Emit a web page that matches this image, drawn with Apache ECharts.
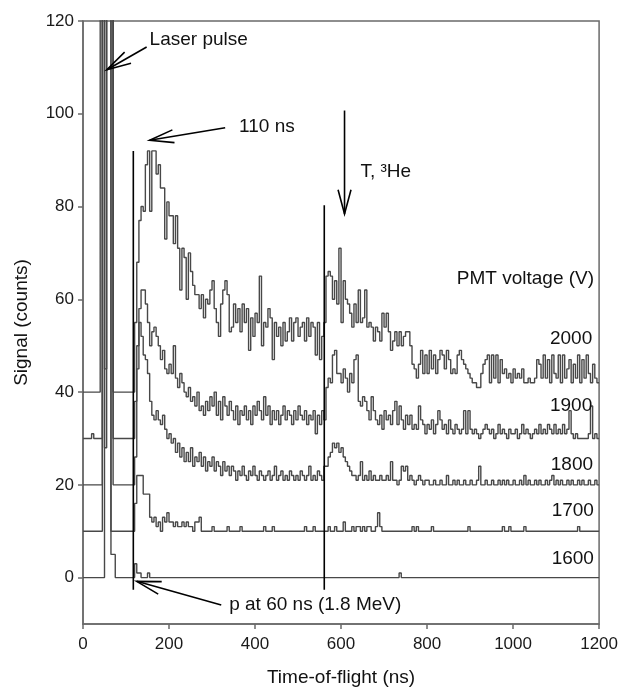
<!DOCTYPE html>
<html><head><meta charset="utf-8">
<script src="https://cdn.jsdelivr.net/npm/echarts@6/dist/echarts.min.js"></script>
<style>html,body{margin:0;padding:0;background:#fff}#c{width:621px;height:692px}</style>
</head><body><div id="c"></div>
<script>
// ---- data (plotted values, traces offset by 10 counts per PMT voltage step) ----
const binWidth = 5;            // ns per histogram bin, bins start at 0 ns
const xMax = 1200;
const xTicks = [0, 200, 400, 600, 800, 1000, 1200];
const yTicks = [0, 20, 40, 60, 80, 100, 120];
const voltages = ['2000', '1900', '1800', '1700', '1600'];

const s2000 = [
 40,40,40,40,40,40,40,40,300,300,45,300,300,300,40,40,40,40,40,40,
 40,40,40,40,55,68,77,80,79,89,92,79,92,92,87,89,84,84,73,81,
 78,78,72,78,71,62,71,69,60,70,66,63,61,61,58,61,56,60,59,62,
 64,58,55,52,59,62,64,61,53,54,59,55,58,53,59,55,58,49,56,52,
 57,55,65,50,55,54,58,56,47,55,52,54,50,55,51,53,56,51,55,56,
 52,54,55,51,56,52,55,54,48,55,47,52,55,65,66,65,60,64,59,71,
 55,64,60,59,57,54,59,55,62,55,56,62,54,55,54,51,54,53,51,57,
 54,57,53,49,51,53,50,53,50,52,53,53,50,46,45,43,46,49,44,48,
 44,49,45,48,44,47,49,48,45,49,47,44,45,44,48,49,47,46,45,44,
 43,42,42,41,41,44,46,47,48,42,48,43,48,42,47,44,45,43,44,42,
 45,43,44,43,45,42,42,43,42,42,43,47,46,43,48,43,47,42,48,44,
 43,48,42,48,43,45,47,42,46,43,48,42,47,43,48,44,42,46,43,42
];
const s1900 = [
 30,30,30,30,31,30,30,30,30,300,300,300,300,300,30,30,30,30,30,30,
 30,30,30,30,38,50,58,62,62,59,55,50,53,54,52,50,47,49,45,44,
 46,44,50,43,41,44,42,40,39,41,38,39,37,40,36,37,35,38,36,39,
 37,40,35,38,34,39,37,35,38,36,34,37,33,36,35,37,34,36,33,37,
 35,38,36,34,39,35,37,33,36,34,36,33,35,37,34,36,35,33,36,34,
 37,35,34,36,33,35,34,36,31,35,33,36,34,41,43,42,48,49,44,44,
 42,45,43,40,44,42,47,48,38,37,39,38,36,34,39,36,34,33,35,32,
 36,34,35,33,36,38,33,37,34,32,35,33,35,32,33,32,37,34,33,31,
 33,32,34,31,33,36,34,32,33,31,34,32,31,33,32,31,32,36,31,36,
 32,31,32,31,30,31,32,33,32,31,32,30,31,33,31,32,31,30,32,31,
 31,32,30,31,33,31,32,31,30,31,32,31,33,31,32,31,33,32,31,33,
 31,32,31,33,31,32,36,31,30,31,30,30,30,30,30,31,37,30,31,30
];
const s1800 = [
 20,20,20,20,20,20,20,20,20,300,28,300,300,300,20,20,20,20,20,20,
 20,20,20,20,26,45,55,52,48,47,44,38,35,34,36,34,33,35,32,30,
 31,29,30,27,29,26,28,25,27,25,28,24,26,25,27,24,26,23,25,24,
 26,23,25,24,22,25,23,24,22,24,23,21,23,22,24,22,21,23,22,24,
 22,21,23,22,21,22,23,21,22,24,21,22,23,21,22,21,23,22,21,22,
 21,23,22,21,22,24,21,22,21,23,22,21,24,24,26,27,29,28,29,27,
 28,26,25,24,23,22,22,21,22,25,21,22,21,23,21,22,21,21,22,21,
 21,22,21,25,21,21,20,21,24,23,24,21,22,21,20,21,22,21,20,21,
 21,20,20,21,20,20,21,20,20,22,20,20,21,20,21,20,20,21,20,20,
 21,20,20,21,24,20,20,21,20,20,21,20,20,21,20,21,20,21,20,20,
 21,20,20,21,20,22,20,21,20,20,21,20,21,20,20,21,20,21,22,20,
 21,20,21,20,20,21,20,21,20,20,21,20,21,20,20,21,20,20,21,20
];
const s1700 = [
 10,10,10,10,10,10,10,10,10,300,300,300,300,10,10,10,10,10,10,10,
 10,10,10,10,16,22,22,22,18,18,18,13,12,13,11,12,10,13,12,14,
 12,12,11,12,11,11,12,11,12,11,11,10,12,12,13,10,10,10,10,10,
 11,10,10,10,10,10,10,11,10,10,10,10,10,11,10,10,10,10,10,10,
 10,10,10,10,11,10,10,10,11,10,10,10,10,10,10,10,10,10,10,10,
 10,10,10,11,10,10,10,11,10,10,10,10,10,10,11,10,10,11,10,10,
 10,12,10,10,10,11,10,11,11,10,11,10,11,11,10,10,11,14,11,10,
 10,10,10,10,10,10,10,10,10,10,10,10,10,11,10,11,10,10,10,10,
 10,10,11,10,10,10,10,10,10,10,10,10,10,10,10,10,10,10,10,11,
 10,10,10,10,10,10,10,10,10,10,10,10,10,10,10,11,10,10,11,10,
 10,10,10,10,10,11,10,10,10,10,10,10,10,10,10,10,10,10,10,10,
 10,10,10,10,10,10,10,10,10,10,11,10,10,10,10,10,10,10,10,10
];
const s1600 = [
 0,0,0,0,0,0,0,0,0,0,300,300,300,5,5,0,0,0,0,0,
 0,0,0,0,3,1,1,0,0,0,1,0,0,0,0,0,0,0,0,0,
 0,0,0,0,0,0,0,0,0,0,0,0,0,0,0,0,0,0,0,0,
 0,0,0,0,0,0,0,0,0,0,0,0,0,0,0,0,0,0,0,0,
 0,0,0,0,0,0,0,0,0,0,0,0,0,0,0,0,0,0,0,0,
 0,0,0,0,0,0,0,0,0,0,0,0,0,0,0,0,0,0,0,0,
 0,0,0,0,0,0,0,0,0,0,0,0,0,0,0,0,0,0,0,0,
 0,0,0,0,0,0,0,1,0,0,0,0,0,0,0,0,0,0,0,0,
 0,0,0,0,0,0,0,0,0,0,0,0,0,0,0,0,0,0,0,0,
 0,0,0,0,0,0,0,0,0,0,0,0,0,0,0,0,0,0,0,0,
 0,0,0,0,0,0,0,0,0,0,0,0,0,0,0,0,0,0,0,0,
 0,0,0,0,0,0,0,0,0,0,0,0,0,0,0,0,0,0,0,0
];
const traces = [s2000, s1900, s1800, s1700, s1600];

// vertical marker lines: [time ns, y bottom, y top]
const markerLines = [[117, -2.6, 92], [561, -2.6, 80.3]];

// annotations (data coordinates)
const arrows = [
  {tail: [148, 114.4], tip: [55.5, 109.5]},
  {tail: [330.6, 97.0], tip: [154.9, 94.3]},
  {tail: [608.1, 100.7], tip: [608.1, 78.4]},
  {tail: [321.4, -5.9], tip: [124.9, -0.8]}
];
const notes = [
  {text: 'Laser pulse', at: [154.9, 116.0], align: 'left'},
  {text: '110 ns', at: [363.0, 97.3], align: 'left'},
  {text: 'T, \u00b3He', at: [645.1, 87.4], align: 'left'},
  {text: 'p at 60 ns (1.8 MeV)', at: [339.9, -5.9], align: 'left'},
  {text: 'PMT voltage (V)', at: [1188.4, 64.4], align: 'right'}
];
const voltageLabelAt = [[1184, 51.6], [1184, 37.0], [1186, 24.4], [1188, 14.5], [1188, 4.0]];

// ---- chart ----
const FONT = '"Liberation Sans", Arial, Helvetica, sans-serif';
const chart = echarts.init(document.getElementById('c'), null, {renderer: 'canvas'});

function histData(arr) {
  const d = arr.map((v, i) => [i * binWidth, v]);
  d.push([xMax, arr[arr.length - 1]]);
  return d;
}

const series = traces.map((arr, k) => ({
  name: voltages[k],
  type: 'line',
  step: 'end',
  data: histData(arr),
  showSymbol: false,
  symbol: 'none',
  clip: true,
  lineStyle: {color: '#484848', width: 1.4},
  z: 2
}));
markerLines.forEach((m, k) => {
  series.push({
    name: 'marker' + k,
    type: 'line',
    data: [[m[0], m[1]], [m[0], m[2]]],
    showSymbol: false,
    symbol: 'none',
    lineStyle: {color: '#000', width: 1.6},
    z: 3
  });
});

const axisColor = '#6a6a6a';
chart.setOption({
  animation: false,
  backgroundColor: '#fff',
  grid: {left: 83, right: 19, top: 21, bottom: 65, show: true, borderColor: axisColor, borderWidth: 1.5, backgroundColor: 'transparent'},
  xAxis: {
    type: 'value', min: 0, max: xMax, interval: 200,
    name: 'Time-of-flight (ns)', nameLocation: 'middle', nameGap: 44,
    nameTextStyle: {fontFamily: FONT, fontSize: 19, color: '#111'},
    axisLine: {show: true, onZero: false, lineStyle: {color: axisColor, width: 1.5}},
    axisTick: {show: true, inside: false, length: 5, customValues: xTicks, lineStyle: {color: axisColor, width: 1.5}},
    axisLabel: {fontFamily: FONT, fontSize: 17, color: '#1a1a1a', margin: 12, customValues: xTicks, formatter: v => String(v)},
    splitLine: {show: false}
  },
  yAxis: {
    type: 'value', min: -10, max: 120,
    name: 'Signal (counts)', nameLocation: 'middle', nameGap: 52, nameRotate: 90,
    nameTextStyle: {fontFamily: FONT, fontSize: 19, color: '#111'},
    axisLine: {show: true, onZero: false, lineStyle: {color: axisColor, width: 1.5}},
    axisTick: {show: true, inside: false, length: 5, customValues: yTicks, lineStyle: {color: axisColor, width: 1.5}},
    axisLabel: {fontFamily: FONT, fontSize: 17, color: '#1a1a1a', margin: 9, customValues: yTicks, formatter: v => String(v)},
    splitLine: {show: false}
  },
  series: series
});

// annotations drawn after the axes exist, positioned through the chart's scales
function px(p) { return chart.convertToPixel({gridIndex: 0}, p); }
const graphics = [];
arrows.forEach(a => {
  const t = px(a.tip), s = px(a.tail);
  const dx = s[0] - t[0], dy = s[1] - t[1];
  const L = Math.hypot(dx, dy), ux = dx / L, uy = dy / L;
  const ang = 15 * Math.PI / 180, len = 25;
  const arm = sgn => [t[0] + len * (ux * Math.cos(sgn * ang) - uy * Math.sin(sgn * ang)),
                      t[1] + len * (ux * Math.sin(sgn * ang) + uy * Math.cos(sgn * ang))];
  graphics.push({type: 'polyline', shape: {points: [s, t]}, style: {stroke: '#000', lineWidth: 1.6, fill: null}, z: 10});
  graphics.push({type: 'polyline', shape: {points: [arm(1), t, arm(-1)]}, style: {stroke: '#000', lineWidth: 1.6, fill: null}, z: 10});
});
notes.forEach(n => {
  const p = px(n.at);
  graphics.push({type: 'text', x: p[0], y: p[1], style: {text: n.text, font: '19px ' + FONT, fill: '#111', align: n.align, verticalAlign: 'middle'}, z: 10});
});
voltages.forEach((v, k) => {
  const p = px(voltageLabelAt[k]);
  graphics.push({type: 'text', x: p[0], y: p[1], style: {text: v, font: '19px ' + FONT, fill: '#111', align: 'right', verticalAlign: 'middle'}, z: 10});
});
chart.setOption({graphic: graphics});
</script></body></html>
